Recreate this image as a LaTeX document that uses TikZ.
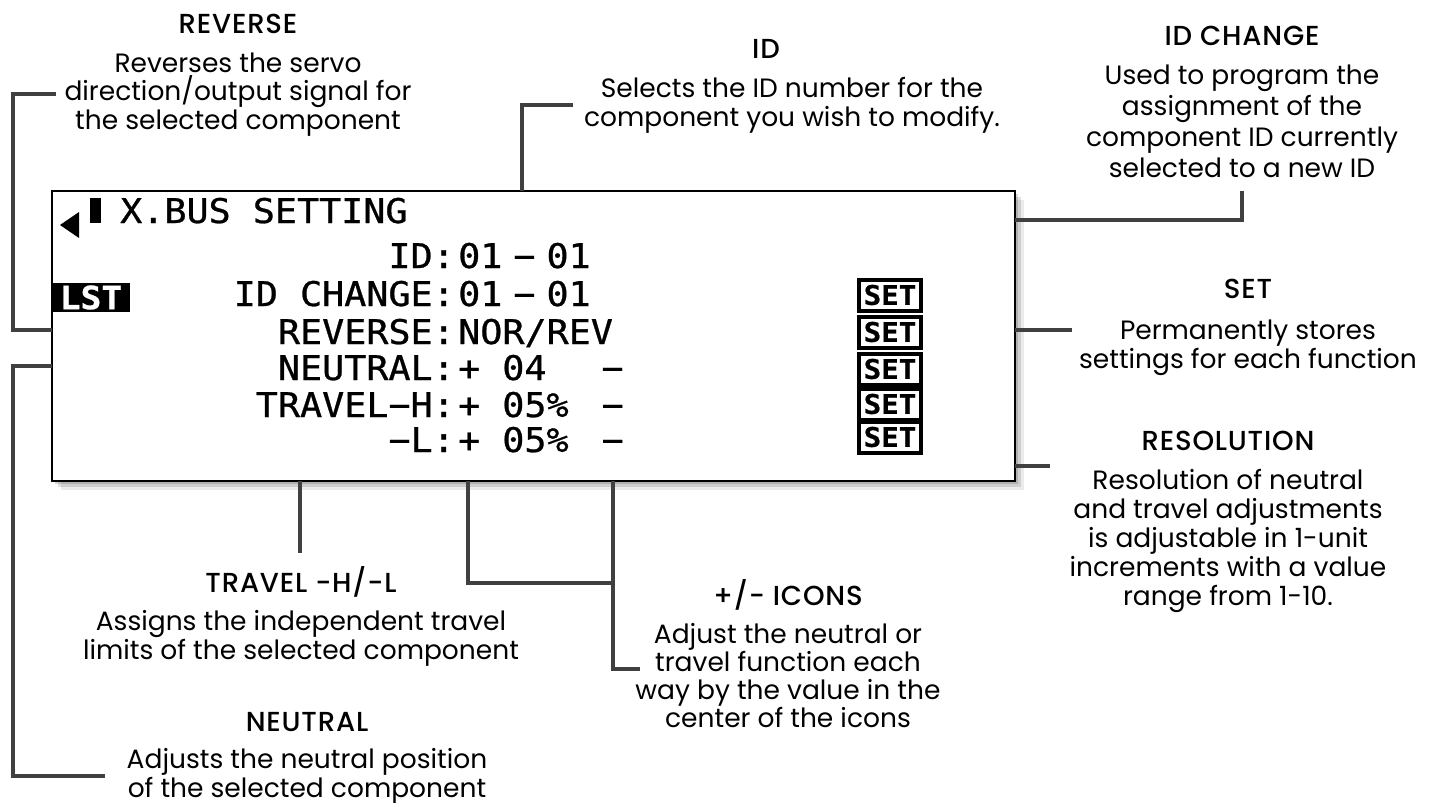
\documentclass[tikz,border=0pt]{standalone}
\usepackage{fontspec}
\setmainfont{Poppins}[BoldFont={Poppins Medium}, BoldFeatures={LetterSpace=3}]
\newfontfamily\lcdfont[FakeStretch=1.08, FakeBold=0.8]{DejaVu Sans Mono}
\usetikzlibrary{shadows,positioning}
\definecolor{leadgray}{HTML}{404040}
\newcommand\lcdgap{\hspace{11pt}}

\begin{document}
\begin{tikzpicture}[x=1pt, y=-1pt,
    leader/.style={line width=3.5pt, draw=leadgray},
    hdr/.style={font=\bfseries\fontsize{27.5}{29}\selectfont, anchor=base, inner sep=0pt},
    note/.style={font=\fontsize{26.5}{28.5}\selectfont, align=center, anchor=base, inner sep=0pt},
    lcdtxt/.style={font=\lcdfont\fontsize{34}{34}\selectfont, inner sep=0pt},
    lcd/.style={draw=black, line width=1.5pt, fill=white, inner sep=0pt,
        drop shadow={shadow xshift=3pt, shadow yshift=-3pt, opacity=.15, fill=black},
        drop shadow={shadow xshift=6pt, shadow yshift=-6pt, opacity=.12, fill=black},
        drop shadow={shadow xshift=9pt, shadow yshift=-9pt, opacity=.08, fill=black}},
    setbox/.style={draw=black, line width=4pt, fill=white, minimum width=62pt,
        minimum height=31pt, inner sep=0pt, font=\lcdfont\bfseries\fontsize{27}{27}\selectfont},
    lstbox/.style={fill=black, text=white, minimum width=78pt, minimum height=29pt,
        inner sep=0pt, font=\lcdfont\bfseries\fontsize{32}{32}\selectfont}]
    \useasboundingbox (0,0) rectangle (1435,803);

    % Ecran
    \node[lcd, minimum width=963pt, minimum height=290pt] (lcd) at (533.5,336) {};

    % Titre
    \fill (60,225) -- (79,212) -- (79,238) -- cycle;
    \fill (90,198) rectangle (101,223);
    \node[lcdtxt, anchor=base west] (menu) at (120,223) {X.BUS SETTING};
    \node[lstbox] (lst) at (91,297.5) {LST};

    % Lignes de l'ecran
    \node[lcdtxt, anchor=base east] (id-lab) at (455,268) {ID:};
    \node[lcdtxt, anchor=base west] (id-val) at (458,268) {01\lcdgap−\lcdgap01};
    \node[lcdtxt, anchor=base east] (idc-lab) at (455,306) {ID CHANGE:};
    \node[lcdtxt, anchor=base west] (idc-val) at (458,306) {01\lcdgap−\lcdgap01};
    \node[lcdtxt, anchor=base east] (rev-lab) at (455,344) {REVERSE:};
    \node[lcdtxt, anchor=base west] (rev-val) at (458,344) {NOR/REV};
    \node[lcdtxt, anchor=base east] (neu-lab) at (455,380) {NEUTRAL:};
    \node[lcdtxt, anchor=base west] (neu-val) at (458,380) {+\hspace{22pt}04\hspace{55pt}−};
    \node[lcdtxt, anchor=base east] (trh-lab) at (455,417) {TRAVEL−H:};
    \node[lcdtxt, anchor=base west] (trh-val) at (458,417) {+\hspace{22pt}05\%\hspace{33pt}−};
    \node[lcdtxt, anchor=base east] (trl-lab) at (455,452) {−L:};
    \node[lcdtxt, anchor=base west] (trl-val) at (458,452) {+\hspace{22pt}05\%\hspace{33pt}−};

    % Touches SET
    \node[setbox] (set1) at (890,295) {SET};
    \node[setbox] (set2) at (890,332) {SET};
    \node[setbox] (set3) at (890,369) {SET};
    \node[setbox] (set4) at (890,404) {SET};
    \node[setbox] (set5) at (890,437) {SET};

    % Legendes (base = derniere ligne)
    \node[hdr] (rev-title) at (238,33) {REVERSE};
    \node[note] (rev-text) at (238,129) {Reverses the servo\\direction/output signal for\\the selected component};
    \node[hdr] (id-title) at (766,58) {ID};
    \node[note] (id-text) at (792,126) {Selects the ID number for the\\component you wish to modify.};
    \node[hdr] (idc-title) at (1242,45) {ID CHANGE};
    \node[note, font=\fontsize{26.5}{31}\selectfont] (idc-text) at (1242,177) {Used to program the\\assignment of the\\component ID currently\\selected to a new ID};
    \node[hdr] (set-title) at (1248,298) {SET};
    \node[note] (set-text) at (1248,368) {Permanently stores\\settings for each function};
    \node[hdr] (res-title) at (1228,450) {RESOLUTION};
    \node[note, font=\fontsize{26.5}{29}\selectfont] (res-text) at (1228,605) {Resolution of neutral\\and travel adjustments\\is adjustable in 1-unit\\increments with a value\\range from 1-10.};
    \node[hdr] (trav-title) at (301,592) {TRAVEL -H/-L};
    \node[note] (trav-text) at (301,659) {Assigns the independent travel\\limits of the selected component};
    \node[hdr] (pm-title) at (788,605) {+/- ICONS};
    \node[note, font=\fontsize{26.5}{28}\selectfont] (pm-text) at (788,727) {Adjust the neutral or\\travel function each\\way by the value in the\\center of the icons};
    \node[hdr] (neu-title) at (307,731) {NEUTRAL};
    \node[note, font=\fontsize{26.5}{29}\selectfont] (neu-text) at (307,797) {Adjusts the neutral position\\of the selected component};

    % Points d'attache
    \coordinate (rev-pin) at (52,330);
    \coordinate (neu-pin) at (52,366);
    \coordinate (id-pin) at (522,191);
    \coordinate (idc-pin) at (1015,220);
    \coordinate (set-pin) at (1015,330);
    \coordinate (set-end) at (1072,330);
    \coordinate (res-pin) at (1015,466);
    \coordinate (res-end) at (1050,466);
    \coordinate (trav-pin) at (300,481);
    \coordinate (pm-pin) at (468,481);
    \coordinate (pm-pin2) at (613,481);
    \coordinate (pm-end) at (640,669);

    % Traits de rappel
    \draw[leader] (rev-pin) -- (13,330) |- ([xshift=-8pt]rev-text.west);
    \draw[leader] (neu-pin) -- (13,366) |- ([xshift=-22pt]neu-text.west);
    \draw[leader] (id-pin) |- ([xshift=-11pt]id-text.west);
    \draw[leader] (idc-pin) -| ([yshift=-14pt]idc-text.south);
    \draw[leader] (set-pin) -- (set-end);
    \draw[leader] (res-pin) -- (res-end);
    \draw[leader] (trav-pin) -- (300,553);
    \draw[leader] (pm-pin) |- (613,583);
    \draw[leader] (pm-pin2) |- (pm-end);
\end{tikzpicture}
\end{document}
